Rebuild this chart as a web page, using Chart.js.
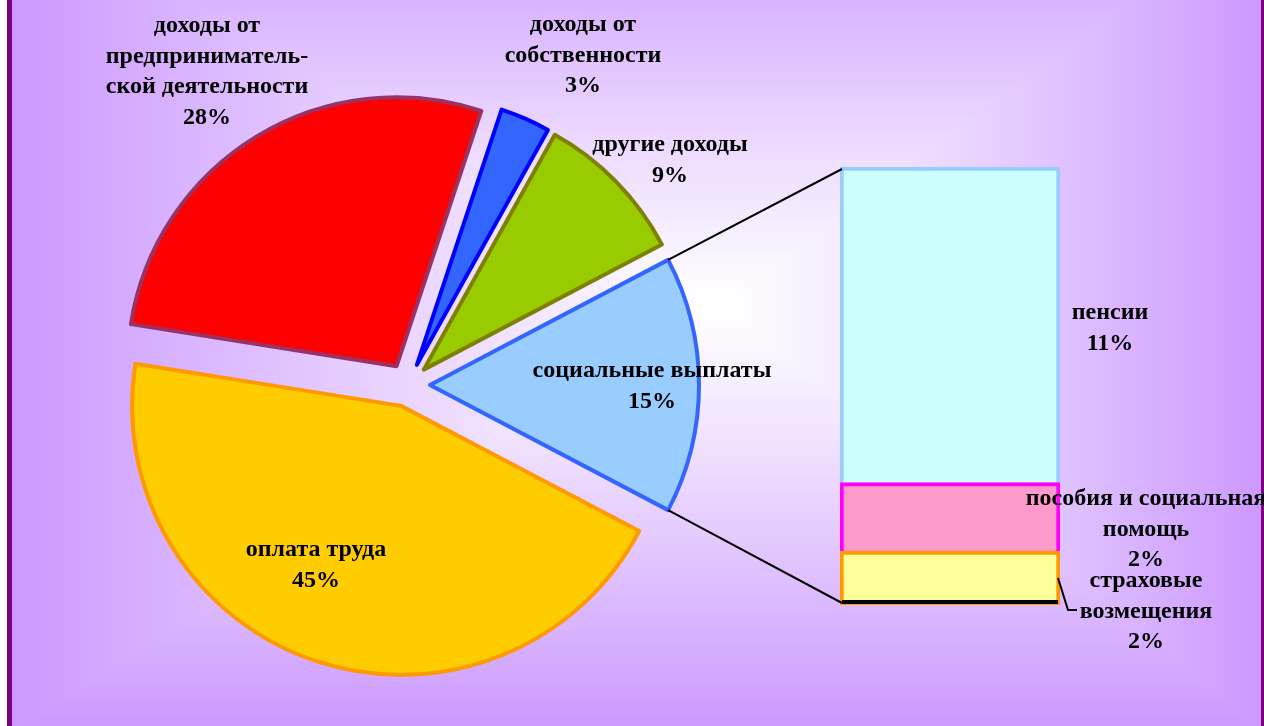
<!DOCTYPE html>
<html>
<head>
<meta charset="utf-8">
<script src="https://cdn.jsdelivr.net/npm/chart.js@4.4.1/dist/chart.umd.min.js"></script>
<style>
    body { margin: 0; background: #fff; overflow: hidden; }
    #wrap { position: relative; width: 1264px; height: 726px; overflow: hidden; }
    #bg { position: absolute; left: 12px; top: 0; }
    #frame { position: absolute; left: 7px; top: -10px; width: 1249px; height: 736px; border: 5px solid #800080; }
    canvas.layer { position: absolute; left: 0; top: 0; }
</style>
</head>
<body>
<div id="wrap">
    <canvas id="bg" width="1249" height="726"></canvas>
    <div id="frame"></div>
    <canvas id="pie" class="layer" width="1264" height="726"></canvas>
    <canvas id="bar" class="layer" width="1264" height="726"></canvas>
</div>
<script>
// данные круговой диаграммы (доли, %)
const pieLabels = [
    ['оплата труда'],
    ['доходы от', 'предприниматель-', 'ской деятельности'],
    ['доходы от', 'собственности'],
    ['другие доходы'],
    ['социальные выплаты']
];
const pieValues = [44.8, 27.6, 3.0, 9.2, 15.4];

// разбивка социальных выплат (столбик справа), снизу вверх
const barLabels = [
    ['страховые', 'возмещения'],
    ['пособия и социальная', 'помощь'],
    ['пенсии']
];
const barValues = [1.9, 2.4, 11.1];

const pieFill = ['#ffcc00', '#ff0000', '#3366ff', '#99cc00', '#99ccff'];
const pieLine = ['#ff9900', '#993366', '#0000ff', '#808000', '#3366ff'];
const barFill = ['#ffff99', '#ff99cc', '#ccffff'];
const barLine = ['#ff9900', '#ff00ff', '#99ccff'];

// где стоят подписи (центр текста, базовая линия первой строки)
const pieLabelAt = [[316, 556], [207, 32], [583, 31], [670, 151], [652, 377]];
const barLabelAt = [[1146, 587], [1146, 505], [1110, 319]];

const FONT = 'bold 24px "Liberation Serif", "Times New Roman", serif';
const LINE_H = 30.5;
const EXPLODE = 22;

// фон: градиент от центра
const drawBackground = () => {
    const c = document.getElementById('bg');
    const ctx = c.getContext('2d');
    const img = ctx.createImageData(c.width, c.height);
    const cx = 722 - 12, cy = 305;
    const hwL = cx, hwR = c.width - cx, hhT = 400, hhB = c.height - cy;
    for (let y = 0; y < c.height; y++) {
        const ty = y < cy ? (cy - y) / hhT : (y - cy) / hhB;
        for (let x = 0; x < c.width; x++) {
            const tx = x < cx ? (cx - x) / hwL : (x - cx) / hwR;
            let t = Math.min(1, Math.max(tx, ty));
            t = Math.pow(t, 1.1);
            const i = (y * c.width + x) * 4;
            img.data[i] = 255 - 51 * t;
            img.data[i + 1] = 255 - 102 * t;
            img.data[i + 2] = 255;
            img.data[i + 3] = 255;
        }
    }
    ctx.putImageData(img, 0, 0);
}
drawBackground();

const drawLines = (ctx, lines, x, y) => {
    ctx.save();
    ctx.font = FONT;
    ctx.fillStyle = '#000';
    ctx.textAlign = 'center';
    ctx.textBaseline = 'alphabetic';
    lines.forEach((t, i) => ctx.fillText(t, x, y + i * LINE_H));
    ctx.restore();
}

const pieTotal = pieValues.reduce((a, b) => a + b, 0);
const barTotal = barValues.reduce((a, b) => a + b, 0);

// центр выдвинутого сектора
const arcCenter = (chart, arc) => {
    const area = chart.chartArea;
    const mid = (arc.startAngle + arc.endAngle) / 2;
    return {
        x: (area.left + area.right) / 2 + Math.cos(mid) * EXPLODE,
        y: (area.top + area.bottom) / 2 + Math.sin(mid) * EXPLODE
    };
}

const explodePlugin = {
    id: 'explode',
    beforeDatasetsDraw(chart) {
        chart.getDatasetMeta(0).data.forEach(arc => {
            const c = arcCenter(chart, arc);
            arc.x = c.x;
            arc.y = c.y;
        });
    }
};

const pieTextPlugin = {
    id: 'pieText',
    afterDraw(chart) {
        const ctx = chart.ctx;
        pieValues.forEach((v, i) => {
            const pct = Math.round(v / pieTotal * 100) + '%';
            drawLines(ctx, [...pieLabels[i], pct], pieLabelAt[i][0], pieLabelAt[i][1]);
        });
    }
};

const pieChart = new Chart(document.getElementById('pie'), {
    type: 'pie',
    data: {
        labels: pieLabels,
        datasets: [{
            data: pieValues,
            backgroundColor: pieFill,
            borderColor: pieLine,
            borderWidth: 4,
            borderJoinStyle: 'round'
        }]
    },
    options: {
        responsive: false,
        animation: false,
        events: [],
        // выделенный сектор смотрит вправо
        rotation: 90 + pieValues[4] / pieTotal * 180,
        radius: 269,
        layout: { padding: { left: 0, right: 448, top: 44, bottom: 0 } },
        plugins: { legend: { display: false }, tooltip: { enabled: false } }
    },
    plugins: [explodePlugin, pieTextPlugin]
});

const barExtrasPlugin = {
    id: 'barExtras',
    afterDatasetsDraw(chart) {
        const ctx = chart.ctx;
        const bottom = chart.getDatasetMeta(0).data[0];
        const top = chart.getDatasetMeta(barValues.length - 1).data[0];
        const left = bottom.x - bottom.width / 2;
        const right = bottom.x + bottom.width / 2;

        // соединительные линии от сектора к столбику
        const arc = pieChart.getDatasetMeta(0).data[4];
        const c = arcCenter(pieChart, arc);
        const r = arc.outerRadius;
        ctx.save();
        ctx.strokeStyle = '#000';
        ctx.lineWidth = 2;
        ctx.beginPath();
        ctx.moveTo(c.x + Math.cos(arc.startAngle) * r, c.y + Math.sin(arc.startAngle) * r);
        ctx.lineTo(left + 2, top.y + 2);
        ctx.moveTo(c.x + Math.cos(arc.endAngle) * r, c.y + Math.sin(arc.endAngle) * r);
        ctx.lineTo(left + 2, bottom.base - 2);
        ctx.stroke();

        // черная линия по низу столбика
        ctx.lineWidth = 4;
        ctx.beginPath();
        ctx.moveTo(left + 2, bottom.base - 3);
        ctx.lineTo(right - 2, bottom.base - 3);
        ctx.stroke();

        // выноска к подписи "страховые возмещения"
        const midY = (bottom.y + bottom.base) / 2;
        ctx.lineWidth = 2;
        ctx.beginPath();
        ctx.moveTo(right - 2, midY);
        ctx.lineTo(right + 8, midY + 32);
        ctx.lineTo(right + 17, midY + 32);
        ctx.stroke();
        ctx.restore();

        barValues.forEach((v, i) => {
            const pct = Math.round(v / pieTotal * 100) + '%';
            drawLines(ctx, [...barLabels[i], pct], barLabelAt[i][0], barLabelAt[i][1]);
        });
    }
};

const barChart = new Chart(document.getElementById('bar'), {
    type: 'bar',
    data: {
        labels: ['социальные выплаты'],
        datasets: barValues.map((v, i) => ({
            label: barLabels[i].join(' '),
            data: [v],
            backgroundColor: barFill[i],
            borderColor: barLine[i],
            borderWidth: 4,
            borderSkipped: i === 0 ? false : 'start',
            categoryPercentage: 1,
            barPercentage: 1
        }))
    },
    options: {
        responsive: false,
        animation: false,
        events: [],
        layout: { padding: { left: 840, right: 204, top: 167, bottom: 121 } },
        scales: {
            x: { display: false, stacked: true },
            y: { display: false, stacked: true, min: 0, max: barTotal }
        },
        plugins: { legend: { display: false }, tooltip: { enabled: false } }
    },
    plugins: [barExtrasPlugin]
});
</script>
</body>
</html>
